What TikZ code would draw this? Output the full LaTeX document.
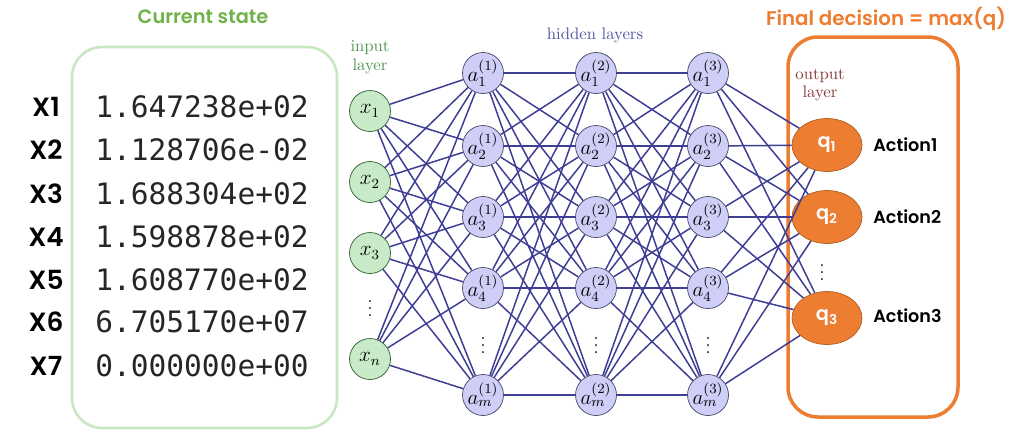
\documentclass[tikz,border=0pt]{standalone}
\usepackage{amsmath, amssymb}
\usepackage{fontspec}
\usetikzlibrary{shapes}
\usetikzlibrary{arrows}
\usetikzlibrary{positioning}
\newfontfamily\gothic{Poppins}[BoldFont={* SemiBold}]
\newfontfamily\monovals{DejaVu Sans Mono}
\definecolor{edgeblue}{RGB}{62,62,148}
\definecolor{hidfill}{RGB}{206,206,246}
\definecolor{hiddraw}{RGB}{70,70,105}
\definecolor{infill}{RGB}{200,234,200}
\definecolor{indraw}{RGB}{45,95,45}
\definecolor{boxgreen}{RGB}{200,232,192}
\definecolor{titlegreen}{RGB}{112,178,72}
\definecolor{qorange}{RGB}{237,125,49}
\definecolor{qdraw}{RGB}{180,95,35}
\definecolor{layergreen}{RGB}{80,150,80}
\definecolor{layerblue}{RGB}{85,85,165}
\definecolor{layerred}{RGB}{135,55,55}
\tikzstyle{inneuron}=[circle,draw=indraw,fill=infill,minimum size=0.82cm,inner sep=0pt,font=\fontsize{12}{12}\selectfont]
\tikzstyle{hidneuron}=[circle,draw=hiddraw,fill=hidfill,minimum size=0.82cm,inner sep=0pt,font=\fontsize{12}{12}\selectfont]
\tikzstyle{outneuron}=[ellipse,draw=qdraw,fill=qorange,minimum width=1.4cm,minimum height=1.06cm,inner sep=0pt,text=white,font=\gothic\bfseries\fontsize{11}{11}\selectfont]
\tikzstyle{xname}=[font=\gothic\bfseries\fontsize{15}{15}\selectfont]
\tikzstyle{xval}=[anchor=west,inner sep=0pt,text=black!85,font=\monovals\fontsize{16.8}{16.8}\selectfont]
\tikzstyle{action}=[anchor=west,inner sep=0pt,font=\gothic\bfseries\fontsize{10}{10}\selectfont]
\tikzstyle{vdotsnode}=[inner sep=0pt,font=\fontsize{10}{10}\selectfont]
\tikzstyle{layername}=[align=center,font=\fontsize{9.5}{10.5}\selectfont]
\tikzstyle{link}=[draw=edgeblue,line width=0.85pt]

\begin{document}
\begin{tikzpicture}[x=0.02cm,y=-0.02cm]
\useasboundingbox (0,0) rectangle (1024,434);
% state box
\draw[boxgreen,line width=1.5pt,rounded corners=0.6cm] (72,47) rectangle (337,428);
\node[font=\gothic\bfseries\fontsize{11}{11}\selectfont,text=titlegreen] (statetitle) at (203,17) {Current state};
\node[xname] (X1) at (46,107) {X1};
\node[xname] (X2) at (46,150) {X2};
\node[xname] (X3) at (46,194) {X3};
\node[xname] (X4) at (46,237) {X4};
\node[xname] (X5) at (46,280) {X5};
\node[xname] (X6) at (46,322) {X6};
\node[xname] (X7) at (46,366) {X7};
\node[xval] (v1) at (95,107) {1.647238e+02};
\node[xval] (v2) at (95,150) {1.128706e-02};
\node[xval] (v3) at (95,194) {1.688304e+02};
\node[xval] (v4) at (95,237) {1.598878e+02};
\node[xval] (v5) at (95,280) {1.608770e+02};
\node[xval] (v6) at (95,322) {6.705170e+07};
\node[xval] (v7) at (95,366) {0.000000e+00};
% output box
\draw[qorange,line width=2pt,rounded corners=0.6cm] (788,37) rectangle (958,417);
\node[font=\gothic\bfseries\fontsize{11.3}{11.3}\selectfont,text=qorange] (finaltitle) at (886,19) {Final decision = max(q)};
% layers
\node[layername,text=layergreen] (inname) at (370,57) {input\\layer};
\node[layername,text=layerblue] (hidname) at (595,35) {hidden layers};
\node[layername,text=layerred] (outname) at (820,85) {output\\layer};
\node[inneuron] (x1) at (370,111) {$x_1$};
\node[inneuron] (x2) at (370,182) {$x_2$};
\node[inneuron] (x3) at (370,253) {$x_3$};
\node[vdotsnode] (xdots) at (370,303) {$\vdots$};
\node[inneuron] (xn) at (370,359) {$x_n$};
\foreach \l/\x in {1/483,2/596,3/708} {
  \node[hidneuron] (a\l1) at (\x,73) {$a^{(\l)}_1$};
  \node[hidneuron] (a\l2) at (\x,146) {$a^{(\l)}_2$};
  \node[hidneuron] (a\l3) at (\x,217) {$a^{(\l)}_3$};
  \node[hidneuron] (a\l4) at (\x,288) {$a^{(\l)}_4$};
  \node[vdotsnode] (adots\l) at (\x,340) {$\vdots$};
  \node[hidneuron] (a\l m) at (\x,395) {$a^{(\l)}_m$};
}
\node[outneuron] (q1) at (827,145) {q\textsubscript{1}};
\node[outneuron] (q2) at (827,217) {q\textsubscript{2}};
\node[vdotsnode] (qdots) at (822,267) {$\vdots$};
\node[outneuron] (q3) at (827,318) {q\textsubscript{3}};
\node[action] (act1) at (873,145) {Action1};
\node[action] (act2) at (873,217) {Action2};
\node[action] (act3) at (873,316) {Action3};
%Drawing Edges
\foreach \i in {x1,x2,x3,xn}
  \foreach \j in {1,2,3,4,m}
    \draw[link] (\i) -- (a1\j);
\foreach \i in {1,2,3,4,m}
  \foreach \j in {1,2,3,4,m} {
    \draw[link] (a1\i) -- (a2\j);
    \draw[link] (a2\i) -- (a3\j);
  }
\foreach \i in {1,2,3,4,m}
  \foreach \j in {q1,q2,q3}
    \draw[link] (a3\i) -- (\j);
\end{tikzpicture}
\end{document}
